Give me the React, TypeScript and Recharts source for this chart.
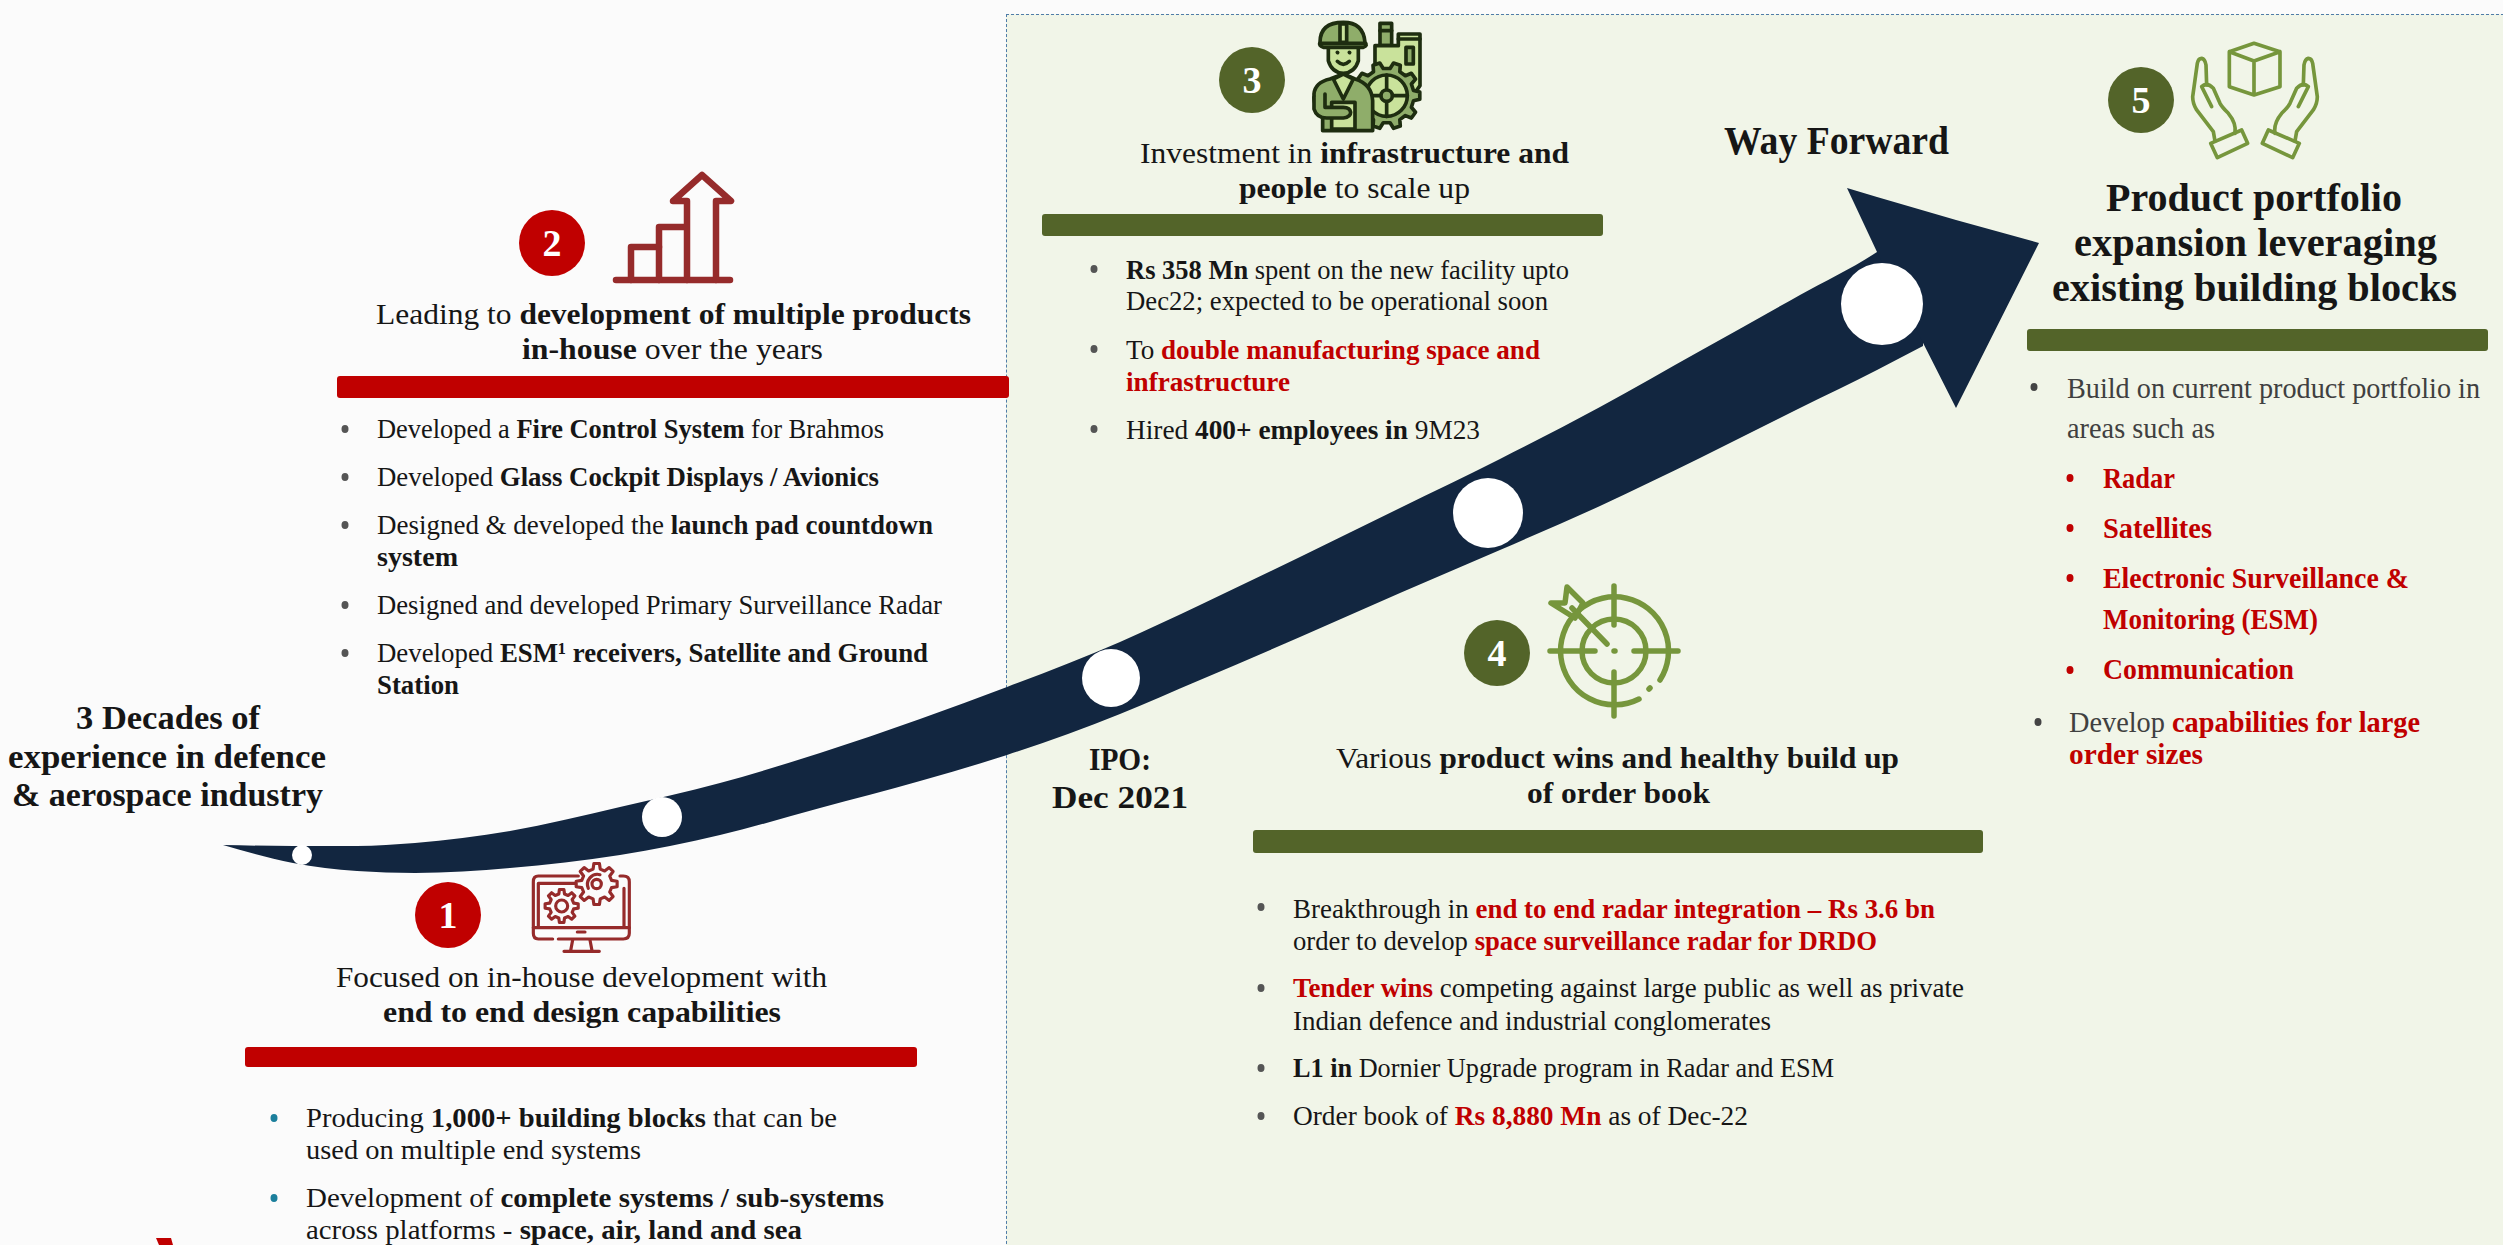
import React from "react";
import { ComposedChart, Area, Scatter, XAxis, YAxis, ReferenceArea, Customized } from "recharts";

// ---------- data ----------
const bandX = [223, 293, 357, 415, 510, 620, 720, 820, 920, 1007, 1120, 1200, 1300, 1400, 1500, 1600, 1700, 1800, 1877, 1923];
const bandTop = [845, 846, 846, 843, 831, 807, 783, 753, 719, 687, 642, 605, 557, 508, 459, 407, 351, 295, 252, 219];
const bandBottom = [845, 863, 871, 873, 868, 855, 835, 808, 781, 755, 714, 680, 637, 593, 550, 506, 458, 408, 370, 346];
const headX = [1847, 1877, 1956, 2039];
const headTop = [188, 197, 220, 243];
const headBottom = [188, 252, 408, 243];
const milestoneX = [302, 662, 1111, 1488, 1882];
const milestoneY = [855, 817, 678, 513, 304];

type Run = [string, "n" | "b" | "r"];
const decadesLines: Run[][] = [[["3 Decades of", "b"]], [["experience in defence", "b"]], [["& aerospace industry", "b"]]];
const ipoLines: Run[][] = [[["IPO:", "b"]], [["Dec 2021", "b"]]];
const wayLines: Run[][] = [[["Way Forward", "b"]]];
const head1: Run[][] = [[["Focused on in-house development with", "n"]], [["end to end design capabilities", "b"]]];
const head2: Run[][] = [[["Leading to ", "n"], ["development of multiple products", "b"]], [["in-house", "b"], [" over the years", "n"]]];
const head3: Run[][] = [[["Investment in ", "n"], ["infrastructure and", "b"]], [["people", "b"], [" to scale up", "n"]]];
const head4: Run[][] = [[["Various ", "n"], ["product wins and healthy build up", "b"]], [["of order book", "b"]]];
const head5: Run[][] = [[["Product portfolio", "b"]], [["expansion leveraging", "b"]], [["existing building blocks", "b"]]];
const body1: Run[][] = [
  [["Producing ", "n"], ["1,000+ building blocks", "b"], [" that can be", "n"]],
  [["used on multiple end systems", "n"]],
  [["Development of ", "n"], ["complete systems / sub-systems", "b"]],
  [["across platforms -  ", "n"], ["space, air, land and sea", "b"]],
];
const body2: Run[][] = [
  [["Developed a ", "n"], ["Fire Control System", "b"], [" for Brahmos", "n"]],
  [["Developed ", "n"], ["Glass Cockpit Displays / Avionics", "b"]],
  [["Designed & developed  the ", "n"], ["launch pad countdown", "b"]],
  [["system", "b"]],
  [["Designed and developed Primary Surveillance Radar", "n"]],
  [["Developed ", "n"], ["ESM¹ receivers, Satellite and Ground", "b"]],
  [["Station", "b"]],
];
const body3: Run[][] = [
  [["Rs 358 Mn", "b"], [" spent on the new facility upto", "n"]],
  [["Dec22; expected to be operational soon", "n"]],
  [["To ", "n"], ["double manufacturing space and", "r"]],
  [["infrastructure", "r"]],
  [["Hired ", "n"], ["400+ employees in", "b"], [" 9M23", "n"]],
];
const body4: Run[][] = [
  [["Breakthrough in ", "n"], ["end to end radar integration – Rs 3.6 bn", "r"]],
  [["order to develop ", "n"], ["space surveillance radar for DRDO", "r"]],
  [["Tender wins", "r"], [" competing against large public as well as private", "n"]],
  [["Indian defence and industrial conglomerates", "n"]],
  [["L1 in", "b"], [" Dornier Upgrade program in Radar and ESM", "n"]],
  [["Order book of ", "n"], ["Rs 8,880 Mn", "r"], [" as of Dec-22", "n"]],
];
const body5: Run[][] = [
  [["Build on current product portfolio in", "n"]],
  [["areas such as", "n"]],
  [["Radar", "r"]],
  [["Satellites", "r"]],
  [["Electronic Surveillance &", "r"]],
  [["Monitoring (ESM)", "r"]],
  [["Communication", "r"]],
  [["Develop ", "n"], ["capabilities for large", "r"]],
  [["order sizes", "r"]],
];
const stepLabels = ["1", "2", "3", "4", "5"];

// ---------- layout, apart from the values ----------
const W = 2503;
const H = 1245;
const RED = "#C00000";
const GREEN = "#536429";
const NAVY = "#122640";
const FONT = "'Liberation Serif', serif";
const milestoneR = [10, 20, 29, 35, 41];
const stepPos = [[448, 915], [552, 243], [1252, 80], [1497, 653], [2141, 100]];
const stepFill = [RED, RED, GREEN, GREEN, GREEN];

type Box = [number, number, number]; // x, baseline, right edge
const blocks: { lines: Run[][]; boxes: Box[]; size: number; color?: string }[] = [
  { lines: decadesLines, size: 34, boxes: [[76, 729, 260], [8, 768, 326], [12, 806, 323]] },
  { lines: ipoLines, size: 31, boxes: [[1089, 770, 1151], [1052, 808, 1188]] },
  { lines: wayLines, size: 40, boxes: [[1724, 154, 1949]] },
  { lines: head1, size: 30, boxes: [[336, 987, 827], [383, 1022, 781]] },
  { lines: head2, size: 30, boxes: [[376, 324, 971], [522, 359, 823]] },
  { lines: head3, size: 30, boxes: [[1140, 163, 1569], [1239, 198, 1470]] },
  { lines: head4, size: 30, boxes: [[1336, 768, 1899], [1527, 803, 1710]] },
  { lines: head5, size: 40, boxes: [[2106, 211, 2402], [2074, 256, 2437], [2052, 301, 2457]] },
  { lines: body1, size: 28, boxes: [[306, 1127, 837], [306, 1159, 641], [306, 1207, 884], [306, 1239, 802]] },
  { lines: body2, size: 28, boxes: [[377, 438, 884], [377, 486, 879], [377, 534, 933], [377, 566, 458], [377, 614, 942], [377, 662, 928], [377, 694, 459]] },
  { lines: body3, size: 28, boxes: [[1126, 279, 1569], [1126, 310, 1548], [1126, 359, 1540], [1126, 391, 1290], [1126, 439, 1480]] },
  { lines: body4, size: 28, boxes: [[1293, 918, 1935], [1293, 950, 1877], [1293, 997, 1964], [1293, 1030, 1771], [1293, 1077, 1834], [1293, 1125, 1748]] },
  { lines: body5, size: 29, color: "#404040", boxes: [[2067, 398, 2480], [2067, 438, 2215], [2103, 488, 2175], [2103, 538, 2212], [2103, 588, 2409], [2103, 629, 2318], [2103, 679, 2294], [2069, 732, 2420], [2069, 764, 2203]] },
];
const bulletDots: [number, number, string][] = [
  [274, 1118, "#1B7F9C"], [274, 1198, "#1B7F9C"],
  [345, 429, "#555"], [345, 477, "#555"], [345, 525, "#555"], [345, 605, "#555"], [345, 653, "#555"],
  [1094, 269, "#555"], [1094, 349, "#555"], [1094, 429, "#555"],
  [1261, 907, "#555"], [1261, 988, "#555"], [1261, 1068, "#555"], [1261, 1116, "#555"],
  [2034, 387, "#444"], [2070, 478, RED], [2070, 528, RED], [2070, 578, RED], [2070, 670, RED], [2038, 722, "#444"],
];
const ruleBoxes: [number, number, number, number, string][] = [
  [245, 917, 1047, 1067, RED],
  [337, 1009, 376, 398, RED],
  [1042, 1603, 214, 236, GREEN],
  [1253, 1983, 830, 853, GREEN],
  [2027, 2488, 329, 351, GREEN],
];

const bandData = bandX.map((x, i) => ({ x, range: [bandTop[i], bandBottom[i]] }));
const headData = headX.map((x, i) => ({ x, range: [headTop[i], headBottom[i]] }));
const milestones = milestoneX.map((x, i) => ({ x, y: milestoneY[i], r: milestoneR[i] }));

const runStyle = (k: string) =>
  k === "b" ? { fontWeight: 700 } : k === "r" ? { fontWeight: 700, fill: "#C00000" } : { fontWeight: 400 };

function TextBlocks() {
  return (
    <g fontFamily={FONT} style={{ whiteSpace: "pre" }}>
      {blocks.map((b, bi) =>
        b.lines.map((runs, li) => {
          const [x, y, r] = b.boxes[li];
          return (
            <text key={`${bi}-${li}`} x={x} y={y} fontSize={b.size} fill={b.color ?? "#161616"} textLength={r - x} lengthAdjust="spacingAndGlyphs">
              {runs.map(([t, k], ri) => (
                <tspan key={ri} {...runStyle(k)}>{t}</tspan>
              ))}
            </text>
          );
        })
      )}
      {bulletDots.map(([x, y, c], i) => (
        <ellipse key={i} cx={x} cy={y} rx={3.5} ry={4} fill={c} />
      ))}
      {stepPos.map(([x, y], i) => (
        <g key={i}>
          <circle cx={x} cy={y} r={33} fill={stepFill[i]} />
          <text x={x} y={y + 13} textAnchor="middle" fontSize={38} fontWeight={700} fill="#fff">{stepLabels[i]}</text>
        </g>
      ))}
    </g>
  );
}

// a toothed wheel outline, for the icons only
function gearPath(cx: number, cy: number, outer: number, inner: number, teeth: number) {
  const pts: string[] = [];
  const step = (Math.PI * 2) / teeth;
  for (let i = 0; i < teeth; i++) {
    const a = i * step;
    const rows: [number, number][] = [
      [-0.3, inner],
      [-0.17, outer],
      [0.17, outer],
      [0.3, inner],
    ];
    rows.forEach(([o, r]) => {
      const t = a + o * step;
      pts.push(`${(cx + Math.cos(t) * r).toFixed(1)} ${(cy + Math.sin(t) * r).toFixed(1)}`);
    });
  }
  return "M" + pts.join(" L") + " Z";
}

function Icons() {
  const br = "#962B2B";
  const gr = "#76963C";
  const ol = "#1E2D10";
  const mid = "#8FAD6A";
  const pale = "#C9E29B";
  return (
    <g>
      {/* monitor with gears */}
      <g transform="translate(520 860) scale(0.3333)" fill="none" stroke={br} strokeWidth={9.5} strokeLinejoin="round" strokeLinecap="round">
        <path d="M175 48 H55 Q40 48 40 65 V220 Q40 237 55 237 H98 M115 237 H310 Q328 237 328 220 V65 Q328 48 310 48 H300" />
        <path d="M55 200 V70 H165 M312 200 V85" />
        <path d="M40 203 H328" />
        <path d="M172 216 H195" />
        <path d="M158 240 L152 272 M210 240 L216 272 M132 274 H238" />
        <path d={gearPath(230, 72, 62, 46, 8)} fill="#FBFBFB" />
        <circle cx="230" cy="72" r="14" />
        <path d="M205 85 A30 30 0 0 1 240 44" />
        <path d={gearPath(125, 138, 50, 37, 8)} fill="#FBFBFB" />
        <circle cx="125" cy="138" r="18" />
      </g>
      {/* rising bars */}
      <g fill="none" stroke={br} strokeWidth={6.5} strokeLinejoin="round" strokeLinecap="round">
        <path d="M616 280 H730" />
        <path d="M631 280 V247 H659 V280" />
        <path d="M659 247 V227 H687 M687 280 V201 H673 L702 175 L731 201 H716 V280" />
      </g>
      {/* worker and plant */}
      <g transform="translate(1300 14) scale(0.3333)" stroke={ol} strokeWidth={11} strokeLinejoin="round" strokeLinecap="round">
        <path d="M240 95 V28 H275 V95 Z" fill={mid} />
        <path d="M240 50 H275" />
        <path d="M225 170 V95 H295 V60 H360 V215 L300 300 H225 Z" fill={pale} />
        <path d="M295 75 H360 M318 100 H340 V150 H318 Z" fill={mid} />
        <path d={gearPath(260, 245, 100, 82, 10)} fill={mid} />
        <circle cx="260" cy="245" r="62" fill={pale} />
        <path d="M260 183 V307 M198 245 H322" />
        <circle cx="260" cy="245" r="17" fill={mid} />
        <path d="M68 350 V295 Q40 285 42 240 Q45 205 90 195 L130 180 L165 195 Q215 210 218 260 V350 Z" fill={mid} />
        <path d="M95 265 H165 V345 H95 Z" fill={pale} />
        <path d="M42 250 V285 Q50 312 80 312 H130 Q152 310 152 295 Q150 280 130 280 H75 V240" fill={mid} />
        <path d="M100 195 L130 255 L160 195 L130 180 Z" fill={pale} />
        <path d="M85 85 V140 Q95 175 130 178 Q165 175 175 140 V85 Z" fill={pale} />
        <path d="M112 115 L113 116 M148 115 L149 116" />
        <path d="M112 142 Q130 160 148 142" fill="none" />
        <path d="M60 85 Q60 25 130 25 Q190 25 195 85 Q205 95 190 100 H70 Q55 95 60 85 Z" fill={mid} />
        <path d="M120 30 H140 V85 H120 Z" fill={pale} />
        <path d="M60 88 H195" />
      </g>
      {/* target */}
      <g fill="none" stroke={gr} strokeWidth={5.5} strokeLinecap="round" strokeLinejoin="round">
        <path d="M1639 699 A54 54 0 1 1 1660 680" />
        <path d="M1649 689 L1650 688" />
        <circle cx="1614" cy="651" r="32" />
        <path d="M1614 586 V625 M1614 672 V716 M1550 651 H1595 M1634 651 H1678" />
        <path d="M1607 644 L1572 608" />
        <path d="M1567 587 L1583 603 L1575 618 L1551 603 L1565 603 Z" />
        <path d="M1614 651 L1615 651" />
      </g>
      {/* hands with a box */}
      <g transform="translate(2180 35) scale(0.3333)" fill="none" stroke={gr} strokeWidth={11} strokeLinejoin="round" strokeLinecap="round">
        <path d="M222 25 L300 50 V155 L222 180 L148 155 V50 Z M148 50 L222 78 L300 50 M222 78 V180" />
        {[0, 1].map((side) => (
          <g key={side} transform={side ? "translate(450 0) scale(-1 1)" : undefined}>
            <path d="M92 325 L185 285 L203 325 L112 368 Z" />
            <path d="M105 318 L100 290 L50 225 Q38 205 38 185 L52 85 Q55 70 65 70 Q75 72 78 90 L80 150" />
            <path d="M95 215 L65 155 Q80 140 100 160 L120 205 Q125 215 145 235 Q170 265 165 295" />
          </g>
        ))}
      </g>
      {/* logo corner */}
      <path d="M156 1238 H171 L173 1245 H159 Z" fill={RED} />
    </g>
  );
}

export default function App() {
  return (
    <div style={{ position: "absolute", left: 0, top: 0, width: W, height: H, background: "#FBFBFB", overflow: "hidden" }}>
      <div style={{ position: "absolute", left: 1006, top: 14, width: W, height: H, background: "#F1F5E8", border: "1.5px dashed #4F7CA8", boxSizing: "border-box" }} />
      <ComposedChart width={W} height={H} margin={{ top: 0, right: 0, bottom: 0, left: 0 }}>
        <XAxis type="number" dataKey="x" domain={[0, W]} hide allowDataOverflow />
        <YAxis type="number" domain={[0, H]} reversed hide width={0} allowDataOverflow />
        {ruleBoxes.map(([x1, x2, y1, y2, c], i) => (
          <ReferenceArea key={i} x1={x1} x2={x2} y1={y1} y2={y2} fill={c} fillOpacity={1} stroke="none" radius={3} ifOverflow="visible" />
        ))}
        <Area data={bandData} dataKey="range" type="monotone" fill={NAVY} fillOpacity={1} stroke="none" dot={false} activeDot={false} isAnimationActive={false} />
        <Area data={headData} dataKey="range" type="linear" fill={NAVY} fillOpacity={1} stroke="none" dot={false} activeDot={false} isAnimationActive={false} />
        <Scatter
          data={milestones}
          dataKey="y"
          fill="#fff"
          isAnimationActive={false}
          shape={(p: any) => <circle cx={p.cx} cy={p.cy} r={p.payload.r} fill="#fff" />}
        />
        <Customized component={<Icons />} />
        <Customized component={<TextBlocks />} />
      </ComposedChart>
    </div>
  );
}
